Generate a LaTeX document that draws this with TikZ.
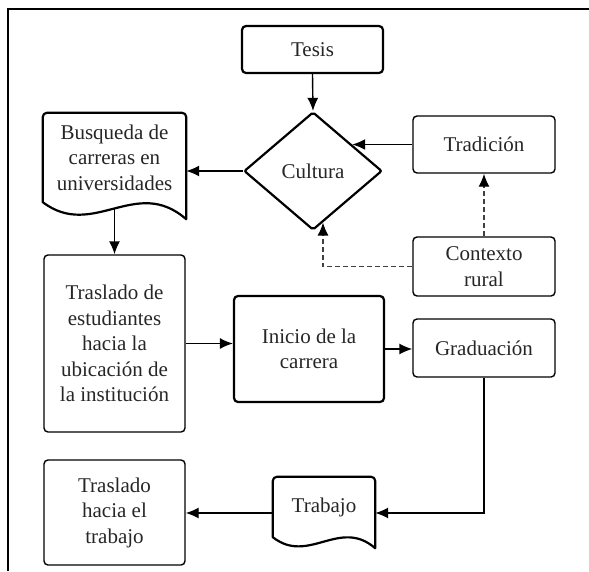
\documentclass[tikz,border=0pt]{standalone}
\usepackage{fontspec}
\setmainfont{Liberation Serif}
\usetikzlibrary{calc,shapes.geometric,arrows.meta}
\def\hoja(#1)(#2:#3:#4){\draw[borde grueso] (#1.south west) [rounded corners=4pt] -- (#1.north west) -- (#1.north east) [sharp corners] -- ($(#1.south east)+(0,#4)$) .. controls ($(#1.south west)!0.65!(#1.south east)+(0,-#3)$) and ($(#1.south west)!0.35!(#1.south east)+(0,#2)$) .. (#1.south west) coordinate[pos=0.5] (#1ola) -- cycle;}

\begin{document}
\begin{tikzpicture}[x=1pt, y=-1pt,
	texto/.style={align=center, inner sep=0pt, text=black!85, font=\fontsize{21}{25.5}\selectfont},
	caja/.style={texto, draw, rounded corners=4pt, line width=1.4pt},
	caja gruesa/.style={caja, line width=2.2pt},
	borde grueso/.style={line width=2.2pt, line join=round},
	rombo/.style={texto, draw, diamond, line width=2.2pt, rounded corners=2pt},
	flecha/.style={line width=1.4pt, -{Latex[length=13pt, width=11pt, black]}},
	punteada/.style={draw=black!75, dash pattern=on 5pt off 3pt}]
		%%%%% START %%%%%
		
		\useasboundingbox (0, 0) rectangle (589, 571);
		\draw[line width=2.5pt] (8, 571) -- (8, 9) -- (589, 9);
		
		\node[caja gruesa, minimum width=141, minimum height=47] (tesis) at (312.5, 49.5) {Tesis};
		\node[rombo, minimum width=138, minimum height=118] (cultura) at (313, 171) {Cultura};
		\node[caja, minimum width=142, minimum height=57] (tradicion) at (484, 144.5) {Tradición};
		\node[caja, minimum width=142, minimum height=59] (contexto) at (484, 266.5) {Contexto\\rural};
		
		\node[texto, minimum width=143, minimum height=89] (busqueda) at (114.5, 157.5) {Busqueda de\\carreras en\\universidades};
		\hoja(busqueda)(38:27:17)
		
		\node[caja, minimum width=141, minimum height=177] (traslado) at (114.5, 343.5) {Traslado de\\estudiantes\\hacia la\\ubicación de\\la institución};
		\node[caja gruesa, minimum width=150, minimum height=106] (inicio) at (309, 349) {Inicio de la\\carrera};
		\node[caja, minimum width=142, minimum height=58] (graduacion) at (484, 348) {Graduación};
		
		\node[texto, minimum width=102, minimum height=60] (trabajo) at (324, 507) {Trabajo};
		\hoja(trabajo)(28:20:11)
		\node[caja, minimum width=141, minimum height=105] (trasladotrabajo) at (114.5, 512.5) {Traslado\\hacia el\\trabajo};
		
		\draw[flecha] (tesis.south) -- (cultura.north);
		\draw[flecha] (cultura.west) -- (cultura.west -| busqueda.east);
		\draw[flecha] (busquedaola) -- (busquedaola |- traslado.north);
		\draw[flecha] (tradicion.west) -- (tradicion.west -| cultura.34);
		\draw[flecha, punteada] (contexto.north) -- (tradicion.south);
		\draw[flecha, punteada] (contexto.west) -| (cultura.-79);
		
		\draw[flecha] (traslado.east) -- (traslado.east -| inicio.west);
		\draw[flecha] (inicio.east) -- (inicio.east -| graduacion.west);
		\draw[flecha] (graduacion.south) |- ([yshift=-6pt]trabajo.east);
		\draw[flecha] ([yshift=-6pt]trabajo.west) -- ([yshift=-6pt]trabajo.west -| trasladotrabajo.east);
		
		%%%%% END %%%%%
\end{tikzpicture}
\end{document}
